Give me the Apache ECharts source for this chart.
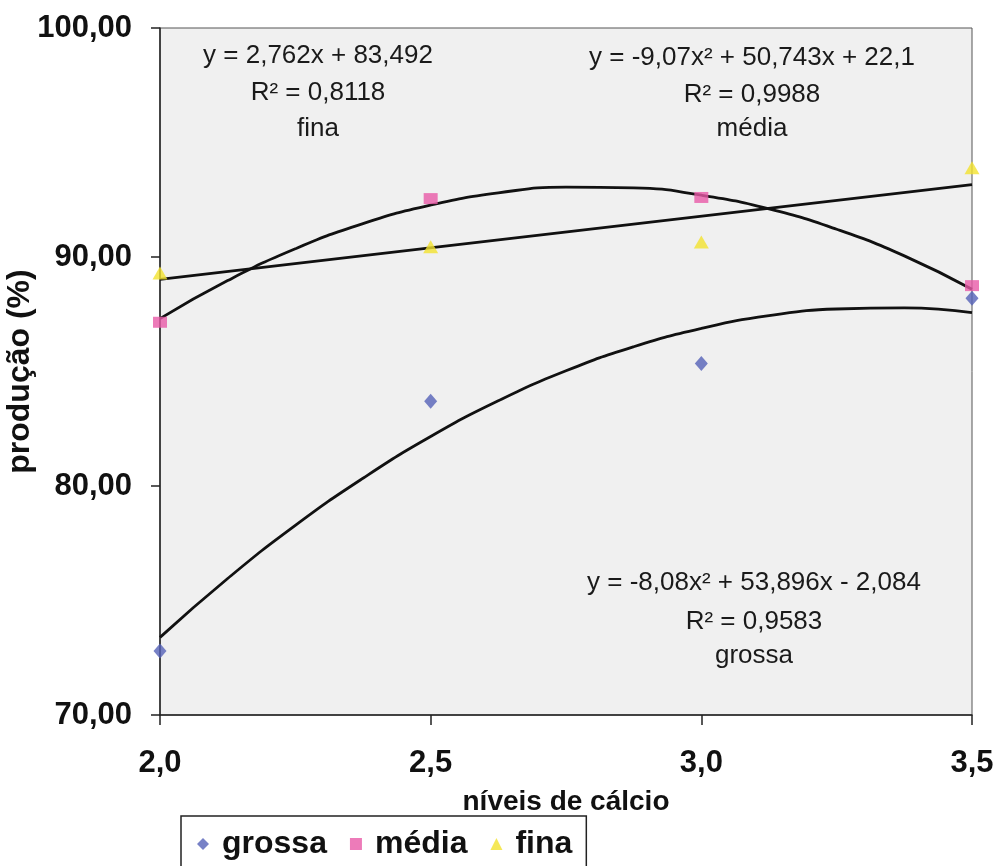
<!DOCTYPE html>
<html>
<head>
<meta charset="utf-8">
<script src="https://cdn.jsdelivr.net/npm/echarts@6/dist/echarts.min.js"></script>
<style>
html,body{margin:0;padding:0;background:#fff;}
#chart{width:997px;height:866px;}
</style>
</head>
<body>
<div id="chart"></div>
<script>
// ---- data ----
const calcio = [2.0, 2.5, 3.0, 3.5];
const grossa = [72.8, 83.7, 85.35, 88.2];
const media = [87.15, 92.55, 92.6, 88.75];
const fina = [89.3, 90.45, 90.65, 93.9];

// trend lines
const trendX = [2.0, 2.125, 2.25, 2.375, 2.5, 2.625, 2.75, 2.875, 3.0, 3.125, 3.25, 3.375, 3.5];
const trendGrossa = [73.39, 75.96, 78.28, 80.34, 82.16, 83.72, 85.03, 86.08, 86.88, 87.44, 87.73, 87.78, 87.57];
const trendMedia = [87.31, 88.97, 90.36, 91.46, 92.27, 92.80, 93.05, 93.02, 92.70, 92.10, 91.21, 90.05, 88.59];
const trendFinaX = [2.0, 3.5];
const trendFina = [89.02, 93.16];

const seriesNames = ['grossa', 'média', 'fina'];
const eqFina = ['y = 2,762x + 83,492', 'R² = 0,8118', 'fina'];
const eqMedia = ['y = -9,07x² + 50,743x + 22,1', 'R² = 0,9988', 'média'];
const eqGrossa = ['y = -8,08x² + 53,896x - 2,084', 'R² = 0,9583', 'grossa'];

const xTitle = 'níveis de cálcio';
const yTitle = 'produção (%)';

// ---- build ----
const FONT = '"Liberation Sans", Arial, sans-serif';
const pairs = (xs, ys) => xs.map((x, i) => [x, ys[i]]);

function eqBlock(lines, cx, ys) {
  return lines.map((t, i) => ({
    type: 'text', x: cx, y: ys[i], z: 100,
    style: { text: t, fontSize: 26, fontFamily: FONT, fill: '#1a1a1a',
             align: 'center', verticalAlign: 'middle', textAlign: 'center', textVerticalAlign: 'middle' }
  }));
}

const chart = echarts.init(document.getElementById('chart'));
chart.setOption({
  backgroundColor: '#ffffff',
  animation: false,
  grid: { left: 160, right: 25, top: 28, bottom: 151, show: true, outerBoundsMode: 'none', containLabel: false,
          backgroundColor: '#f0f0f0', borderColor: '#555', borderWidth: 1 },
  xAxis: {
    type: 'value', min: 2, max: 3.5, interval: 0.5,
    name: xTitle, nameLocation: 'middle', nameGap: 73, nameMoveOverlap: false,
    nameTextStyle: { fontSize: 28, fontWeight: 'bold', fontFamily: FONT, color: '#111' },
    axisLine: { lineStyle: { color: '#222', width: 1.5 } },
    axisTick: { show: true, length: 10, lineStyle: { color: '#222', width: 1.5 } },
    splitLine: { show: false },
    axisLabel: { margin: 33, fontSize: 31, fontWeight: 'bold', fontFamily: FONT, color: '#111',
                 formatter: v => v.toFixed(1).replace('.', ',') }
  },
  yAxis: {
    type: 'value', min: 70, max: 100, interval: 10,
    name: yTitle, nameLocation: 'middle', nameGap: 124, nameMoveOverlap: false,
    nameTextStyle: { fontSize: 32, fontWeight: 'bold', fontFamily: FONT, color: '#111' },
    axisLine: { show: true, lineStyle: { color: '#222', width: 1.5 } },
    axisTick: { show: true, length: 9, lineStyle: { color: '#222', width: 1.5 } },
    splitLine: { show: false },
    axisLabel: { margin: 28, fontSize: 31, fontWeight: 'bold', fontFamily: FONT, color: '#111',
                 formatter: v => v.toFixed(2).replace('.', ',') }
  },
  legend: {
    data: [
      { name: seriesNames[0], icon: 'diamond' },
      { name: seriesNames[1], icon: 'rect' },
      { name: seriesNames[2], icon: 'triangle' }
    ],
    left: 181, top: 816, orient: 'horizontal',
    itemWidth: 12, itemHeight: 12, itemGap: 23,
    padding: [12, 14, 10, 16],
    borderColor: '#222', borderWidth: 1.5, backgroundColor: '#fff',
    textStyle: { fontSize: 32, fontWeight: 'bold', fontFamily: FONT, color: '#111', padding: [0, 0, 0, 8] }
  },
  series: [
    { name: 'trend-grossa', type: 'line', data: pairs(trendX, trendGrossa), smooth: true, symbol: 'none',
      lineStyle: { color: '#111', width: 2.8 }, silent: true, z: 2 },
    { name: 'trend-media', type: 'line', data: pairs(trendX, trendMedia), smooth: true, symbol: 'none',
      lineStyle: { color: '#111', width: 2.8 }, silent: true, z: 2 },
    { name: 'trend-fina', type: 'line', data: pairs(trendFinaX, trendFina), symbol: 'none',
      lineStyle: { color: '#111', width: 2.8 }, silent: true, z: 2 },
    { name: seriesNames[0], type: 'scatter', data: pairs(calcio, grossa), symbol: 'diamond', symbolSize: [13, 15],
      itemStyle: { color: '#5561b8' }, z: 3 },
    { name: seriesNames[1], type: 'scatter', data: pairs(calcio, media), symbol: 'rect', symbolSize: [14, 11],
      itemStyle: { color: '#e85aa8' }, z: 3 },
    { name: seriesNames[2], type: 'scatter', data: pairs(calcio, fina), symbol: 'triangle', symbolSize: [15, 13],
      itemStyle: { color: '#f2e22e' }, z: 3 }
  ],
  graphic: [].concat(
    eqBlock(eqFina, 318, [56, 93, 129]),
    eqBlock(eqMedia, 752, [58, 95, 129]),
    eqBlock(eqGrossa, 754, [583, 622, 656])
  )
});
</script>
</body>
</html>
